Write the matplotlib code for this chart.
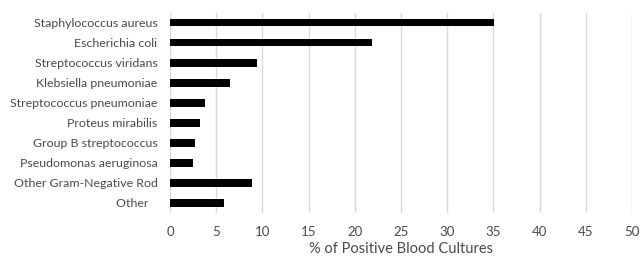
import matplotlib
matplotlib.use("Agg")
import matplotlib.pyplot as plt

categories = ["Staphylococcus aureus", "Escherichia coli", "Streptococcus viridans",
              "Klebsiella pneumoniae", "Streptococcus pneumoniae", "Proteus mirabilis",
              "Group B streptococcus", "Pseudomonas aeruginosa", "Other Gram-Negative Rod",
              "Other   "]
values = [35.1, 21.9, 9.4, 6.5, 3.8, 3.2, 2.7, 2.5, 8.9, 5.8]
xticks = [0, 5, 10, 15, 20, 25, 30, 35, 40, 45, 50]

plt.rcParams['font.family'] = ['Lato', 'DejaVu Sans']
txt = '#4a4a4a'

fig = plt.figure(figsize=(6.41, 2.58), dpi=100)
ax = fig.add_axes([170/641, 1-213/258, (632-170)/641, (213-12.5)/258])
y = list(range(len(categories)))
ax.barh(y, values, height=0.39, color='black', zorder=3)
ax.set_ylim(len(categories)-0.5, -0.5)
ax.set_xlim(0, 50)
ax.set_xticks(xticks)
ax.set_yticks(y)
ax.set_yticklabels(categories, fontsize=8.95, color=txt)
ax.set_xticklabels([str(t) for t in xticks], fontsize=9.5, color=txt)
ax.grid(axis='x', color='#d9d9d9', linewidth=1, zorder=0)
for s in ax.spines.values():
    s.set_visible(False)
ax.tick_params(length=0)
ax.tick_params(axis='x', pad=9)
ax.tick_params(axis='y', pad=9)
ax.set_xlabel("% of Positive Blood Cultures", fontsize=10.5, color=txt, labelpad=3)
fig.savefig("out.png", dpi=100)
